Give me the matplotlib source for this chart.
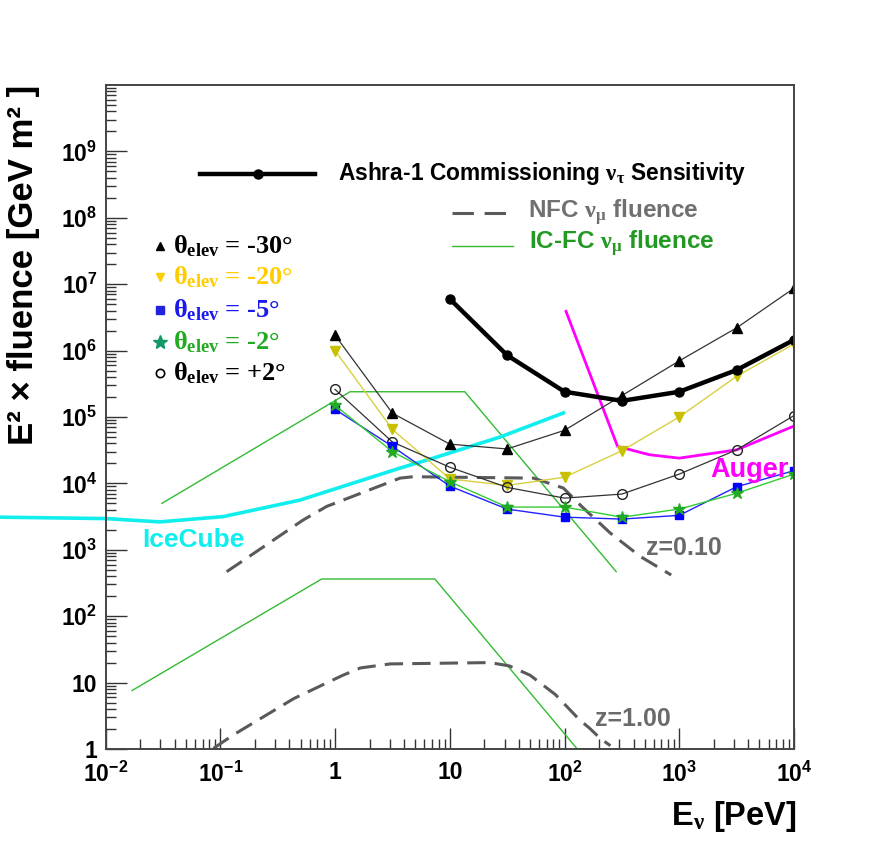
import numpy as np
import matplotlib
matplotlib.use("Agg")
import matplotlib.pyplot as plt
from matplotlib.ticker import LogLocator, FixedLocator, FixedFormatter, NullFormatter

plt.rcParams['font.family'] = ['Liberation Sans', 'DejaVu Sans']
plt.rcParams['font.weight'] = 'bold'
plt.rcParams['mathtext.fontset'] = 'custom'
plt.rcParams['mathtext.rm'] = 'Liberation Serif'
plt.rcParams['mathtext.it'] = 'Liberation Serif:italic'
plt.rcParams['mathtext.bf'] = 'Liberation Serif:bold'
plt.rcParams['mathtext.sf'] = 'Liberation Sans:bold'

# === Data ===
E_pts = [1, 3.16, 10, 31.6, 100, 316, 1000, 3162, 10000]

ashra_E = [10, 31.6, 100, 316, 1000, 3162, 10000]
ashra_F = [6.0e6, 8.5e5, 2.4e5, 1.75e5, 2.4e5, 5.1e5, 1.45e6]

elev_m30 = [1.7e6, 1.14e5, 3.9e4, 3.3e4, 6.3e4, 2.1e5, 7.0e5, 2.2e6, 8.7e6]
elev_m20 = [1.0e6, 6.5e4, 1.17e4, 9.3e3, 1.24e4, 3.1e4, 1.0e5, 4.1e5, 1.26e6]
elev_m5 = [1.3e5, 3.6e4, 9.1e3, 4.1e3, 3.1e3, 2.9e3, 3.3e3, 8.9e3, 1.55e4]
elev_m2 = [1.5e5, 3.0e4, 1.06e4, 4.4e3, 4.4e3, 3.1e3, 4.1e3, 7.1e3, 1.38e4]
elev_p2 = [2.6e5, 4.2e4, 1.75e4, 8.7e3, 6.0e3, 6.9e3, 1.38e4, 3.2e4, 1.05e5]

auger_E = [103, 290, 550, 1000, 3162, 10000]
auger_F = [3.9e6, 3.6e4, 2.7e4, 2.4e4, 3.2e4, 7.3e4]

icecube_E = [0.0012, 0.01, 0.0295, 0.106, 0.494, 3.68, 7.18, 27.5, 97.7]
icecube_F = [3.1e3, 2.95e3, 2.63e3, 3.16e3, 5.6e3, 1.7e4, 2.4e4, 5.0e4, 1.15e5]

nfc01_E = [0.1135, 0.525, 0.845, 3.68, 4.79, 53.7, 97.7, 141, 251, 457, 851]
nfc01_F = [468, 2.8e3, 4.5e3, 1.2e4, 1.26e4, 1.2e4, 8.5e3, 4.5e3, 1.78e3, 794, 417]

nfc1_E = [0.087, 0.129, 0.437, 1.17, 1.66, 3.02, 22.4, 33.1, 50.1, 83.2, 135, 166, 204, 251]
nfc1_F = [1.02, 1.62, 5.75, 12.9, 16.6, 19.1, 20.0, 17.8, 12.9, 6.6, 2.75, 2.04, 1.45, 1.12]

icfc_hi_E = [0.0309, 1.35, 13.5, 282]
icfc_hi_F = [5.0e3, 2.4e5, 2.4e5, 468]
icfc_lo_E = [0.017, 0.764, 7.41, 129]
icfc_lo_F = [7.6, 363, 363, 1.0]

x_ticks = [1e-2, 1e-1, 1, 10, 1e2, 1e3, 1e4]
x_labels = [r'$\mathsf{10^{-2}}$', r'$\mathsf{10^{-1}}$', '1', '10',
            r'$\mathsf{10^{2}}$', r'$\mathsf{10^{3}}$', r'$\mathsf{10^{4}}$']
y_ticks = [1, 10, 1e2, 1e3, 1e4, 1e5, 1e6, 1e7, 1e8, 1e9]
y_labels = ['1', '10'] + [r'$\mathsf{10^{%d}}$' % k for k in range(2, 10)]

# === Figure ===
fig = plt.figure(figsize=(8.82, 8.51), dpi=100)
ax = fig.add_axes([0.1198, 0.1199, 0.7804, 0.7802])
ax.set_xscale('log')
ax.set_yscale('log')
ax.set_xlim(1e-2, 1e4)
ax.set_ylim(1, 1e10)

# reference curves
ax.plot(icfc_hi_E, icfc_hi_F, color='#33bb33', lw=1.0)
ax.plot(icfc_lo_E, icfc_lo_F, color='#33bb33', lw=1.0)
ax.plot(nfc01_E, nfc01_F, color='#5a5a5a', lw=2.2, dashes=(6, 3))
ax.plot(nfc1_E, nfc1_F, color='#5a5a5a', lw=2.2, dashes=(6, 3))
ax.plot(icecube_E, icecube_F, color='#11eeee', lw=2.6, clip_on=False)
ax.plot(auger_E, auger_F, color='#ff00ff', lw=2.0)

# elevation curves
ax.plot(E_pts, elev_m30, color='#333333', lw=0.9, marker='^', ms=7,
        mfc='black', mec='black')
ax.plot(E_pts, elev_m20, color='#d8d040', lw=1.0, marker='v', ms=7,
        mfc='#c8c000', mec='#c8c000')
ax.plot(E_pts, elev_p2, color='#333333', lw=0.9, marker='o', ms=7,
        mfc='none', mec='#222222', mew=1.0)
ax.plot(E_pts, elev_m5, color='#2222ff', lw=1.0, marker='s', ms=6,
        mfc='#0000ff', mec='#0000ff')
ax.plot(E_pts, elev_m2, color='#33cc33', lw=1.0, marker='*', ms=9,
        mfc='#22aa22', mec='#22aa22')

# Ashra sensitivity
ax.plot(ashra_E, ashra_F, color='black', lw=3.2, marker='o', ms=6.5)

# curve labels
ax.text(1.86e3, 1.6e4, 'Auger', color='#ff00ff', fontsize=19.5, va='center')
ax.text(0.021, 1.4e3, 'IceCube', color='#11eeee', fontsize=19, va='center')
ax.text(515, 1.07e3, 'z=0.10', color='#6a6a6a', fontsize=18, va='center')
ax.text(186, 2.8, 'z=1.00', color='#6a6a6a', fontsize=18, va='center')

# ticks
ax.xaxis.set_major_locator(FixedLocator(x_ticks))
ax.xaxis.set_major_formatter(FixedFormatter(x_labels))
ax.yaxis.set_major_locator(FixedLocator(y_ticks))
ax.yaxis.set_major_formatter(FixedFormatter(y_labels))
ax.xaxis.set_minor_locator(LogLocator(base=10, subs=np.arange(2, 10), numticks=100))
ax.yaxis.set_minor_locator(LogLocator(base=10, subs=np.arange(2, 10), numticks=100))
ax.xaxis.set_minor_formatter(NullFormatter())
ax.yaxis.set_minor_formatter(NullFormatter())
ax.tick_params(which='both', direction='in', top=False, right=False,
               color='#333333', labelsize=16.5, width=1.0)
ax.tick_params(which='major', length=15)
ax.tick_params(which='minor', length=7)
ax.tick_params(axis='x', which='major', pad=9)
ax.tick_params(axis='y', which='major', pad=6)
for s in ax.spines.values():
    s.set_color('#444444')
    s.set_linewidth(1.4)


def px(x, y):
    """pixel position (from top-left) -> axes fraction"""
    return (x - 105.7) / 688.3, (749 - y) / 664.0


# legend: top block
tr = ax.transAxes
x0, y0 = px(200, 173.5)
x1, _ = px(315, 173.5)
xm, _ = px(258, 173.5)
ax.plot([x0, x1], [y0, y0], color='black', lw=3.2, transform=tr, clip_on=False)
ax.plot([xm], [y0], 'o', color='black', ms=6.5, transform=tr, clip_on=False)
tx, ty = px(338, 173.5)
ax.text(tx, ty, r'Ashra-1 Commissioning $\mathrm{\nu_{\tau}}$ Sensitivity',
        transform=tr, fontsize=16.4, va='center', color='black')

x0, y0 = px(452, 213)
x1, _ = px(510, 213)
ax.plot([x0, x1], [y0, y0], color='#5a5a5a', lw=2.2, dashes=(7, 3.5), transform=tr)
tx, ty = px(528, 212)
ax.text(tx, ty, r'NFC $\mathrm{\nu_{\mu}}$ fluence', transform=tr,
        fontsize=17.5, va='center', color='#707070')
x0, y0 = px(452, 246)
x1, _ = px(513, 246)
ax.plot([x0, x1], [y0, y0], color='#33bb33', lw=1.0, transform=tr)
tx, ty = px(529, 243)
ax.text(tx, ty, r'IC-FC $\mathrm{\nu_{\mu}}$ fluence', transform=tr,
        fontsize=17.5, va='center', color='#229922')

# legend: elevation block
rows = [('^', 'black', 'black', '-30°', 246),
        ('v', '#ffcc00', '#ffcc00', '-20°', 277),
        ('s', '#2222dd', '#1a1aee', '-5°', 310),
        ('*', '#119966', '#22aa22', '-2°', 342),
        ('o', 'black', 'black', '+2°', 373)]
for mk, mcol, tcol, val, yy in rows:
    mx, my = px(160, yy)
    if mk == 'o':
        ax.plot([mx], [my], mk, ms=6, mfc='none', mec=mcol, mew=1.2, transform=tr)
    elif mk == '*':
        ax.plot([mx], [my], mk, ms=10, color=mcol, transform=tr)
    else:
        ax.plot([mx], [my], mk, ms=5.5, color=mcol, transform=tr)
    tx, ty = px(173, yy)
    ax.text(tx, ty, r'$\mathbf{\theta_{elev}}$ = ' + val, transform=tr,
            fontsize=19, va='center', color=tcol, family='Liberation Serif')

# axis titles
fig.text(797 / 882, 1 - 817 / 851, r'E$_{\mathrm{\nu}}$ [PeV]', fontsize=23.5,
         ha='right', va='center')
fig.text(24 / 882, 1 - 85 / 851, 'E² × fluence [GeV m² ]', fontsize=25,
         rotation=90, ha='center', va='top')

fig.savefig('out.png', dpi=100)
